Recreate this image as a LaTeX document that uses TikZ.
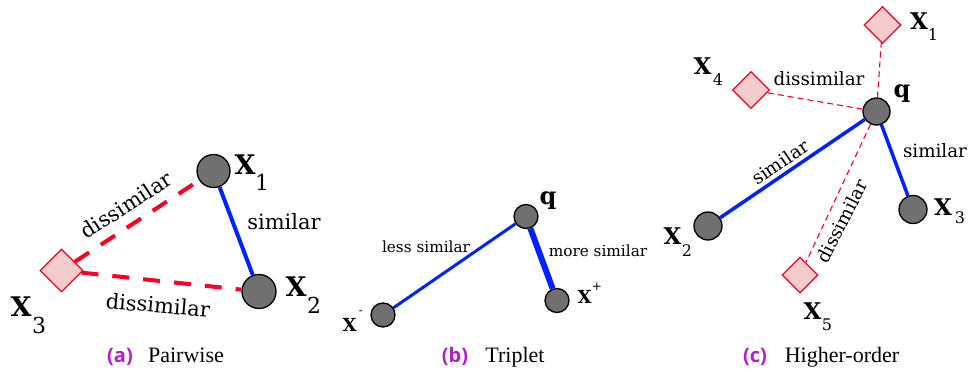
\documentclass[tikz,border=0pt]{standalone}
\usepackage{fontspec}
\setmainfont{DejaVu Serif}
\newfontfamily\capserif{Liberation Serif}
\newfontfamily\capsans{Open Sans}
\usetikzlibrary{shapes.geometric}
\definecolor{simblue}{RGB}{0,34,255}
\definecolor{disred}{RGB}{255,0,34}
\definecolor{dpink}{RGB}{244,204,204}
\definecolor{ptgray}{RGB}{112,112,112}
\definecolor{capurple}{RGB}{180,30,200}
\tikzset{
 ptnode/.style={circle, draw=black, line width=1.3pt, fill=ptgray, inner sep=0pt, minimum size=#1},
 negnode/.style={diamond, draw=disred, line width=1.2pt, fill=dpink, inner sep=0pt, minimum size=#1},
 simline/.style={draw=simblue, line width=#1},
 disthick/.style={draw=disred, line width=4pt, dash pattern=on 17pt off 14pt},
 disthin/.style={draw=disred, line width=1.1pt, dash pattern=on 6pt off 4pt},
 bigX/.style={font=\fontsize{#1}{#1}\selectfont\bfseries, inner sep=0pt},
 subtxt/.style={font=\fontsize{#1}{#1}\selectfont, inner sep=0pt},
 labtxt/.style={font=\fontsize{#1}{#1}\selectfont, inner sep=0pt},
 capl/.style={font=\capsans\bfseries\fontsize{20}{20}\selectfont, text=capurple, inner sep=0pt, anchor=base},
 capt/.style={font=\capserif\fontsize{22}{22}\selectfont, inner sep=0pt, anchor=base},
}
\begin{document}
\begin{tikzpicture}[x=1pt,y=-1pt]
\useasboundingbox (0,0) rectangle (968,374);
% ---------- (a) Pairwise ----------
\node[ptnode=33pt] (a1) at (213.5,171) {};
\node[ptnode=34pt] (a2) at (259,291.5) {};
\node[negnode=43pt] (a3) at (61.5,270.5) {};
\draw[simline=4pt] (a1) -- (a2);
\draw[disthick] (a3) -- (a1);
\draw[disthick] (a3) -- (a2);
\node[bigX=27] (a1x) at (245,165) {X};
\node[subtxt=22] (a1s) at (262,182) {1};
\node[bigX=27] (a2x) at (296,287) {X};
\node[subtxt=22] (a2s) at (314,305) {2};
\node[bigX=27] (a3x) at (21,307) {X};
\node[subtxt=22] (a3s) at (39,325) {3};
\node[labtxt=21, anchor=base] (asim) at (284,229) {similar};
\node[labtxt=21, rotate=33] (adis1) at (126,205) {dissimilar};
\node[labtxt=21, rotate=-5] (adis2) at (158,305) {dissimilar};
\node[capl] (acl) at (120,362) {(a)};
\node[capt] (act) at (186,362) {Pairwise};
% ---------- (b) Triplet ----------
\node[ptnode=24pt] (bq) at (526,216.5) {};
\node[ptnode=24pt] (bp) at (557,300.5) {};
\node[ptnode=24pt] (bn) at (383,315) {};
\draw[simline=3pt] (bq) -- (bn);
\draw[simline=6pt] (bq) -- (bp);
\node[bigX=24] (bql) at (548,201) {q};
\node[bigX=18] (bpx) at (584.5,296.5) {X};
\node[subtxt=12] (bps) at (597,287) {+};
\node[bigX=18] (bnx) at (349.5,324.5) {X};
\node[subtxt=12] (bns) at (361,313) {-};
\node[labtxt=15.3, anchor=base] (bless) at (426,252) {less similar};
\node[labtxt=15.3, anchor=base] (bmore) at (598,256) {more similar};
\node[capl] (bcl) at (455,362) {(b)};
\node[capt] (bct) at (515,362) {Triplet};
% ---------- (c) Higher-order ----------
\node[ptnode=27pt] (cq) at (876.5,111.5) {};
\node[ptnode=28pt] (c2) at (708,226) {};
\node[ptnode=28pt] (c3) at (913,209.5) {};
\node[negnode=37pt] (c1) at (882.5,25) {};
\node[negnode=37pt] (c4) at (751,90) {};
\node[negnode=36pt] (c5) at (800,275) {};
\draw[simline=3.5pt] (cq) -- (c2);
\draw[simline=3.5pt] (cq) -- (c3);
\draw[disthin] (cq) -- (c1);
\draw[disthin] (cq) -- (c4);
\draw[disthin] (cq) -- (c5);
\node[bigX=24] (cql) at (902,94) {q};
\node[bigX=23] (c1x) at (919,21.5) {X};
\node[subtxt=16] (c1s) at (933,35) {1};
\node[bigX=23] (c4x) at (702.5,66) {X};
\node[subtxt=16] (c4s) at (718,80) {4};
\node[bigX=23] (c3x) at (943,207.5) {X};
\node[subtxt=16] (c3s) at (960,218) {3};
\node[bigX=23] (c2x) at (672.5,236) {X};
\node[subtxt=16] (c2s) at (687,251) {2};
\node[bigX=23] (c5x) at (812.5,311) {X};
\node[subtxt=16] (c5s) at (827,325) {5};
\node[labtxt=18.3, anchor=base] (cdis4) at (819,86) {dissimilar};
\node[labtxt=18.3, anchor=base] (csim3) at (935,158) {similar};
\node[labtxt=18.3, rotate=34] (csim2) at (780,162) {similar};
\node[labtxt=18.3, rotate=63] (cdis5) at (842,221) {dissimilar};
\node[capl] (ccl) at (755,362) {(c)};
\node[capt] (cct) at (842,362) {Higher-order};
\end{tikzpicture}
\end{document}
